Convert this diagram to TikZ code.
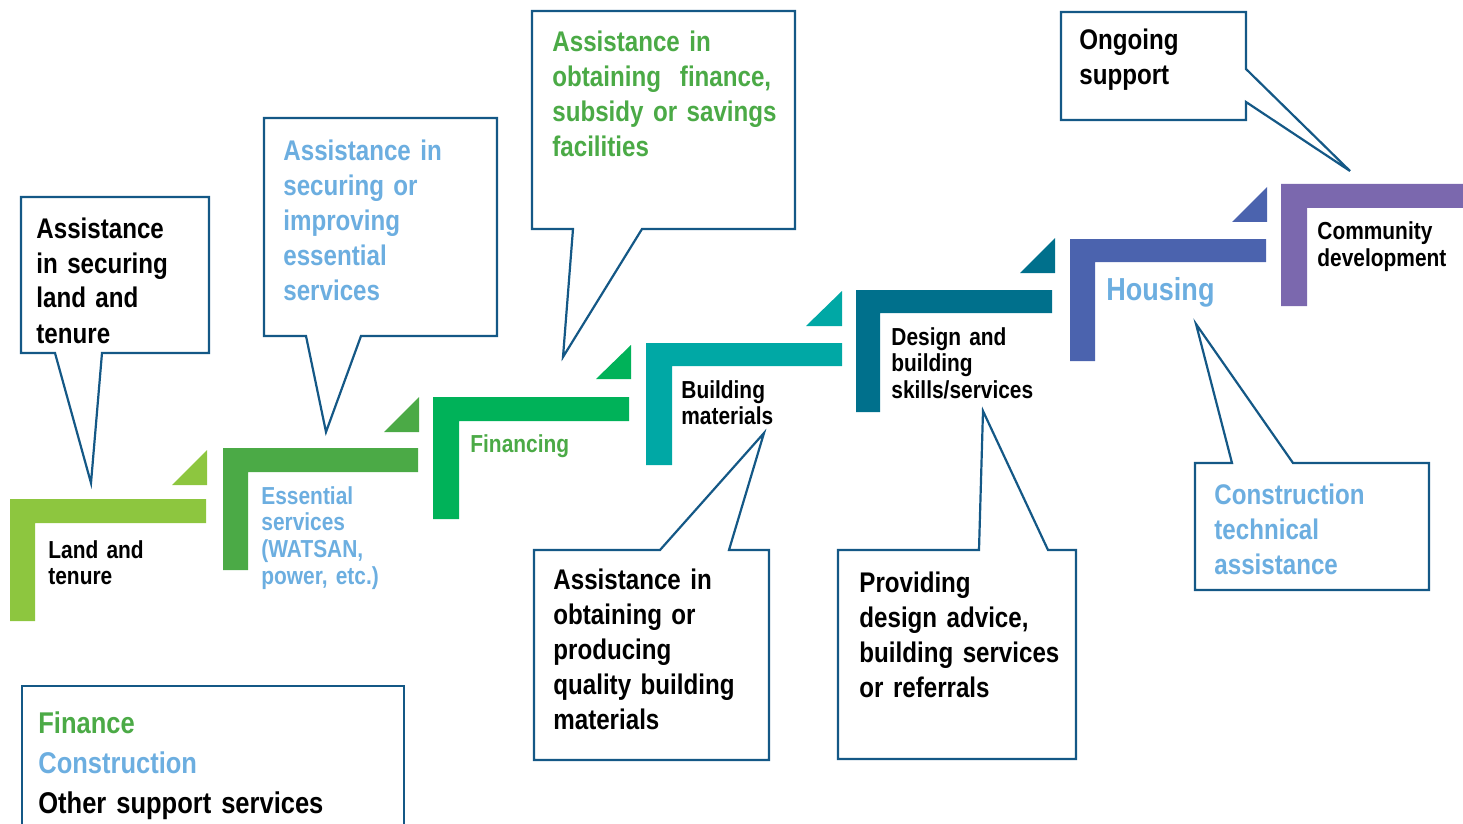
\documentclass[tikz,border=0pt]{standalone}
\usepackage{fontspec}
\setmainfont[FakeStretch=0.85]{Liberation Sans}
\usepackage{xcolor}
\definecolor{hsland}{RGB}{141,198,63}
\definecolor{hsservice}{RGB}{75,170,70}
\definecolor{hsfinance}{RGB}{0,178,89}
\definecolor{hsmaterial}{RGB}{0,168,165}
\definecolor{hsdesign}{RGB}{0,112,140}
\definecolor{hshousing}{RGB}{75,99,174}
\definecolor{hscommunity}{RGB}{123,104,174}
\definecolor{hsline}{RGB}{20,88,134}
\definecolor{hslightblue}{RGB}{108,174,224}
\definecolor{hsgreentext}{RGB}{75,170,70}
\usepackage{tikz}
\usetikzlibrary{positioning}

\begin{document}
\begin{tikzpicture}[x=0.5pt, y=-0.5pt,
  callout/.style={draw=hsline, line width=1.1pt, fill=white, line join=miter},
  callouttext/.style={anchor=base west, inner sep=0pt, text width=120pt, align=left, font=\fontsize{14.2pt}{17.5pt}\selectfont\bfseries},
  steptext/.style={anchor=base west, inner sep=0pt, text width=80pt, align=left, font=\fontsize{12.3pt}{13.4pt}\selectfont\bfseries}]
  \useasboundingbox (0,0) rectangle (1463,824);

  % Steps (L shapes) and small triangles
  \fill[hsland] (10,499) -- (206,499) -- (206,523) -- (35,523) -- (35,621) -- (10,621) -- cycle;
  \fill[hsland] (172,485) -- (207,485) -- (207,450) -- cycle;
  \fill[hsservice] (223,448) -- (418,448) -- (418,472) -- (248,472) -- (248,570) -- (223,570) -- cycle;
  \fill[hsservice] (384,432) -- (419,432) -- (419,397) -- cycle;
  \fill[hsfinance] (433,397) -- (629,397) -- (629,421) -- (459,421) -- (459,519) -- (433,519) -- cycle;
  \fill[hsfinance] (596,379) -- (631,379) -- (631,345) -- cycle;
  \fill[hsmaterial] (646,343) -- (842,343) -- (842,366) -- (672,366) -- (672,465) -- (646,465) -- cycle;
  \fill[hsmaterial] (806,326) -- (842,326) -- (842,291) -- cycle;
  \fill[hsdesign] (856,290) -- (1052,290) -- (1052,313) -- (880,313) -- (880,412) -- (856,412) -- cycle;
  \fill[hsdesign] (1020,273) -- (1055,273) -- (1055,238) -- cycle;
  \fill[hshousing] (1070,239) -- (1266,239) -- (1266,262) -- (1095,262) -- (1095,361) -- (1070,361) -- cycle;
  \fill[hshousing] (1232,222) -- (1267,222) -- (1267,187) -- cycle;
  \fill[hscommunity] (1281,184) -- (1463,184) -- (1463,208) -- (1307,208) -- (1307,306) -- (1281,306) -- cycle;

  % Step labels
  \node[steptext] (land) at (48,558) {Land and\\tenure};
  \node[steptext, hslightblue] (essential) at (261,504) {Essential\\services\\(WATSAN,\\power, etc.)};
  \node[steptext, hsgreentext] (financing) at (470,452) {Financing};
  \node[steptext] (materials) at (681,398) {Building\\materials};
  \node[steptext] (design) at (891,345) {Design and\\building\\skills/services};
  \node[steptext, hslightblue, font=\fontsize{15.9pt}{17pt}\selectfont\bfseries] (housing) at (1106,300) {Housing};
  \node[steptext] (community) at (1317,240) {Community\\development};

  % Callouts
  \draw[callout] (21,197) -- (209,197) -- (209,353) -- (102,353) -- (91,483) -- (55,353) -- (21,353) -- cycle;
  \node[callouttext] (landhelp) at (36,238) {Assistance\\in securing\\land and\\tenure};

  \draw[callout] (264,118) -- (497,118) -- (497,336) -- (361,336) -- (326,432) -- (306,336) -- (264,336) -- cycle;
  \node[callouttext, hslightblue] (servicehelp) at (283,161) {Assistance in\\securing or\\improving\\essential\\services};

  \draw[callout] (532,11) -- (795,11) -- (795,229) -- (642,229) -- (563,357) -- (573,229) -- (532,229) -- cycle;
  \node[callouttext, hsgreentext] (financehelp) at (552,52) {Assistance in\\obtaining\ \ finance,\\subsidy or savings\\facilities};

  \draw[callout] (534,550) -- (660,550) -- (764,433) -- (729,550) -- (769,550) -- (769,760) -- (534,760) -- cycle;
  \node[callouttext] (materialhelp) at (553,589) {Assistance in\\obtaining or\\producing\\quality building\\materials};

  \draw[callout] (838,550) -- (979,550) -- (983,411) -- (1048,550) -- (1076,550) -- (1076,759) -- (838,759) -- cycle;
  \node[callouttext] (designhelp) at (859,592) {Providing\\design advice,\\building services\\or referrals};

  \draw[callout] (1195,463) -- (1232,463) -- (1196,324) -- (1293,463) -- (1429,463) -- (1429,590) -- (1195,590) -- cycle;
  \node[callouttext, hslightblue] (technical) at (1214,504) {Construction\\technical\\assistance};

  \draw[callout] (1061,12) -- (1246,12) -- (1246,69) -- (1350,171) -- (1246,102) -- (1246,120) -- (1061,120) -- cycle;
  \node[callouttext] (ongoing) at (1079,50) {Ongoing\\support};

  % Legend
  \draw[hsline, line width=1.1pt] (22,824) -- (22,686) -- (404,686) -- (404,824);
  \node[callouttext, hsgreentext, text width=180pt, font=\fontsize{15pt}{20pt}\selectfont\bfseries] (legend) at (38,733) {Finance\\\textcolor{hslightblue}{Construction}\\\textcolor{black}{Other support services}};
\end{tikzpicture}
\end{document}
